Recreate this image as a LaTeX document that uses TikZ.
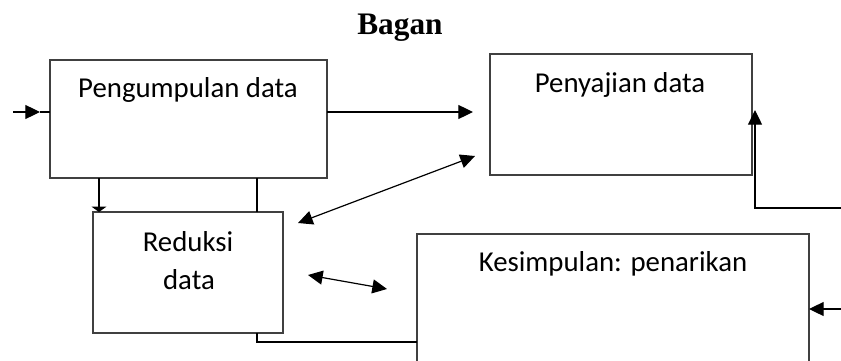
\documentclass[tikz,border=0pt]{standalone}
\usepackage{fontspec}
\setmainfont{Carlito}
\newfontfamily\titlefont{Liberation Serif}
\usetikzlibrary{arrows.meta}
\begin{document}
\begin{tikzpicture}[x=0.75pt,y=-0.75pt,
  box/.style={draw=black!75,line width=0.9pt,fill=none},
  lbl/.style={anchor=base,inner sep=0pt,font=\fontsize{21.6pt}{24pt}\selectfont},
  conn/.style={draw=black,line width=0.9pt},
  arr/.style={conn,-{Triangle[length=11pt,width=10.5pt]}},
  darr/.style={conn,{Triangle[length=11pt,width=10.5pt]}-{Triangle[length=11pt,width=10.5pt]}}
]
\clip (0,0) rectangle (841,360);
\useasboundingbox (0,0) rectangle (841,360);
% boxes
\draw[box] (50,60) rectangle (327,178);
\coordinate (b1nw) at (50,60); \coordinate (b1se) at (327,178);
\draw[box] (490,54) rectangle (752,175);
\coordinate (b2nw) at (490,54); \coordinate (b2se) at (752,175);
\draw[box] (93,212) rectangle (283,333);
\coordinate (b3nw) at (93,212); \coordinate (b3se) at (283,333);
\draw[box] (417,234) rectangle (809,390);
\coordinate (b4nw) at (417,234); \coordinate (b4se) at (809,390);
% texts
\node[anchor=base,inner sep=0pt,font=\titlefont\bfseries\fontsize{23.5pt}{26pt}\selectfont] (title) at (400,35) {Bagan};
\node[lbl] (t1) at (188,97) {Pengumpulan data};
\node[lbl] (t2) at (620,92) {Penyajian data};
\node[lbl] (t3a) at (188,251) {Reduksi};
\node[lbl] (t3b) at (189,289) {data};
\node[lbl] (t4) at (613,271) {Kesimpulan: penarikan};
% entry arrow
\coordinate (in) at (13,112);
\coordinate (inTip) at (40,112);
\draw[arr] (in) -- (inTip);
\draw[conn] (inTip) -- (b1nw |- inTip);
% b1 -> b2
\coordinate (b1r) at (b1se |- inTip);
\coordinate (b2tip) at (473,112);
\draw[arr] (b1r) -- (b2tip);
% diagonal double arrow
\coordinate (d1) at (298,223);
\coordinate (d2) at (475,156);
\draw[darr] (d1) -- (d2);
% small double arrow
\coordinate (s1) at (308,275);
\coordinate (s2) at (387,289);
\draw[darr] (s1) -- (s2);
% b1 -> b3 lines
\coordinate (v1a) at (99,178);
\coordinate (v1b) at (99,212);
\draw[conn,-{Triangle[length=4pt,width=11pt]}] (v1a) -- (v1b);
\coordinate (v2a) at (257,178);
\coordinate (v2b) at (257,212);
\draw[conn] (v2a) -- (v2b);
% b3 -> b4
\coordinate (v3a) at (257,333);
\coordinate (v3b) at (257,342);
\draw[conn] (v3a) -- (v3b) -- (b4nw |- v3b);
% right side into b2
\coordinate (r1) at (841,208);
\coordinate (r2) at (755,208);
\coordinate (r3) at (755,110);
\draw[arr] (r1) -- (r2) -- (r3);
% right arrow into b4
\coordinate (r4) at (841,309);
\coordinate (r5) at (809,309);
\draw[arr] (r4) -- (r5);
\end{tikzpicture}
\end{document}
